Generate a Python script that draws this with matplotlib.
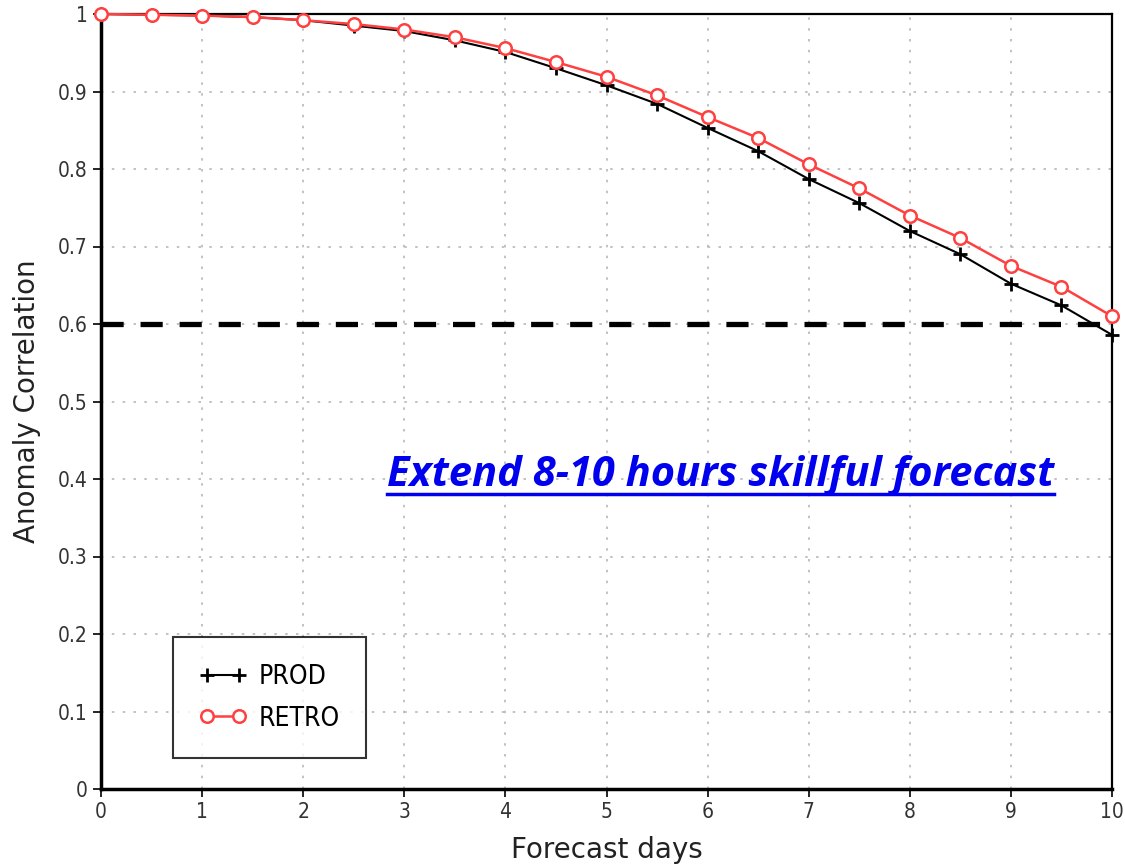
import matplotlib
matplotlib.use("Agg")
import matplotlib.pyplot as plt
from matplotlib.lines import Line2D

# forecast day (every 12 h) and anomaly correlation values
days = [0, 0.5, 1, 1.5, 2, 2.5, 3, 3.5, 4, 4.5, 5, 5.5, 6, 6.5, 7, 7.5, 8, 8.5, 9, 9.5, 10]
prod = [1.0, 0.999, 0.998, 0.996, 0.992, 0.985, 0.978, 0.966, 0.951, 0.930, 0.908,
        0.884, 0.853, 0.823, 0.787, 0.756, 0.720, 0.690, 0.652, 0.624, 0.586]
retro = [1.0, 0.999, 0.998, 0.996, 0.992, 0.987, 0.980, 0.970, 0.956, 0.938, 0.919,
         0.895, 0.867, 0.840, 0.806, 0.775, 0.740, 0.711, 0.675, 0.648, 0.610]
threshold = 0.6
xticks = list(range(0, 11))
yticks = [0, 0.1, 0.2, 0.3, 0.4, 0.5, 0.6, 0.7, 0.8, 0.9, 1]
ytick_labels = ["0", "0.1", "0.2", "0.3", "0.4", "0.5", "0.6", "0.7", "0.8", "0.9", "1"]
note = "Extend 8-10 hours skillful forecast"

fig = plt.figure(figsize=(11.25, 8.64), dpi=100)
ax = fig.add_axes([101 / 1125, 1 - 789 / 864, (1112 - 101) / 1125, (789 - 14) / 864])

ax.grid(True, color="#b8b8b8", linestyle=(0, (1.5, 5)), linewidth=1.2)
ax.axhline(threshold, color="black", linewidth=3.8, dashes=(4.2, 3.2), zorder=3)

ax.plot(days, prod, color="black", linewidth=1.5, marker="+", markersize=10,
        markeredgewidth=2, label="PROD", zorder=4, clip_on=False)
ax.plot(days, retro, color="#ff4040", linewidth=1.8, marker="o", markersize=9,
        markerfacecolor="white", markeredgecolor="#ff4040", markeredgewidth=1.8,
        label="RETRO", zorder=5, clip_on=False)

ax.set_xlim(0, 10)
ax.set_ylim(0, 1)
ax.set_xticks(xticks)
ax.set_yticks(yticks)
ax.set_yticklabels(ytick_labels)
ax.tick_params(direction="out", length=6, width=1.2, labelsize=15, colors="black",
               labelcolor="#333333")
for lab in ax.get_xticklabels() + ax.get_yticklabels():
    lab.set_fontweight("light")
    lab.set_fontstretch("condensed")

for side in ["left", "bottom"]:
    ax.spines[side].set_linewidth(2.5)
for side in ["top", "right"]:
    ax.spines[side].set_linewidth(1.6)

ax.set_xlabel("Forecast days", fontsize=20, labelpad=10, color="#222222")
ax.set_ylabel("Anomaly Correlation", fontsize=20, labelpad=12, color="#222222")

leg = ax.legend(loc="lower left", bbox_to_anchor=(0.0712, 0.04), numpoints=2,
                prop={"size": 19, "stretch": "condensed"}, frameon=True,
                fancybox=False, edgecolor="black", handlelength=1.8, borderpad=1.0,
                labelspacing=0.6, handletextpad=0.45, borderaxespad=0)
leg.get_frame().set_linewidth(1.5)

txt = ax.text(0.613, 0.405, note, transform=ax.transAxes, ha="center", va="center",
              fontsize=30, fontweight="bold", fontstyle="italic", color="#0000ee",
              family="Open Sans", zorder=6)

# underline under the annotation
fig.canvas.draw()
bb = txt.get_window_extent(fig.canvas.get_renderer()).transformed(fig.transFigure.inverted())
fig.add_artist(Line2D([bb.x0, bb.x1], [bb.y0 + 0.002, bb.y0 + 0.002],
                      transform=fig.transFigure, color="#0000ee", linewidth=2.5))

fig.savefig("out.png", dpi=100)
